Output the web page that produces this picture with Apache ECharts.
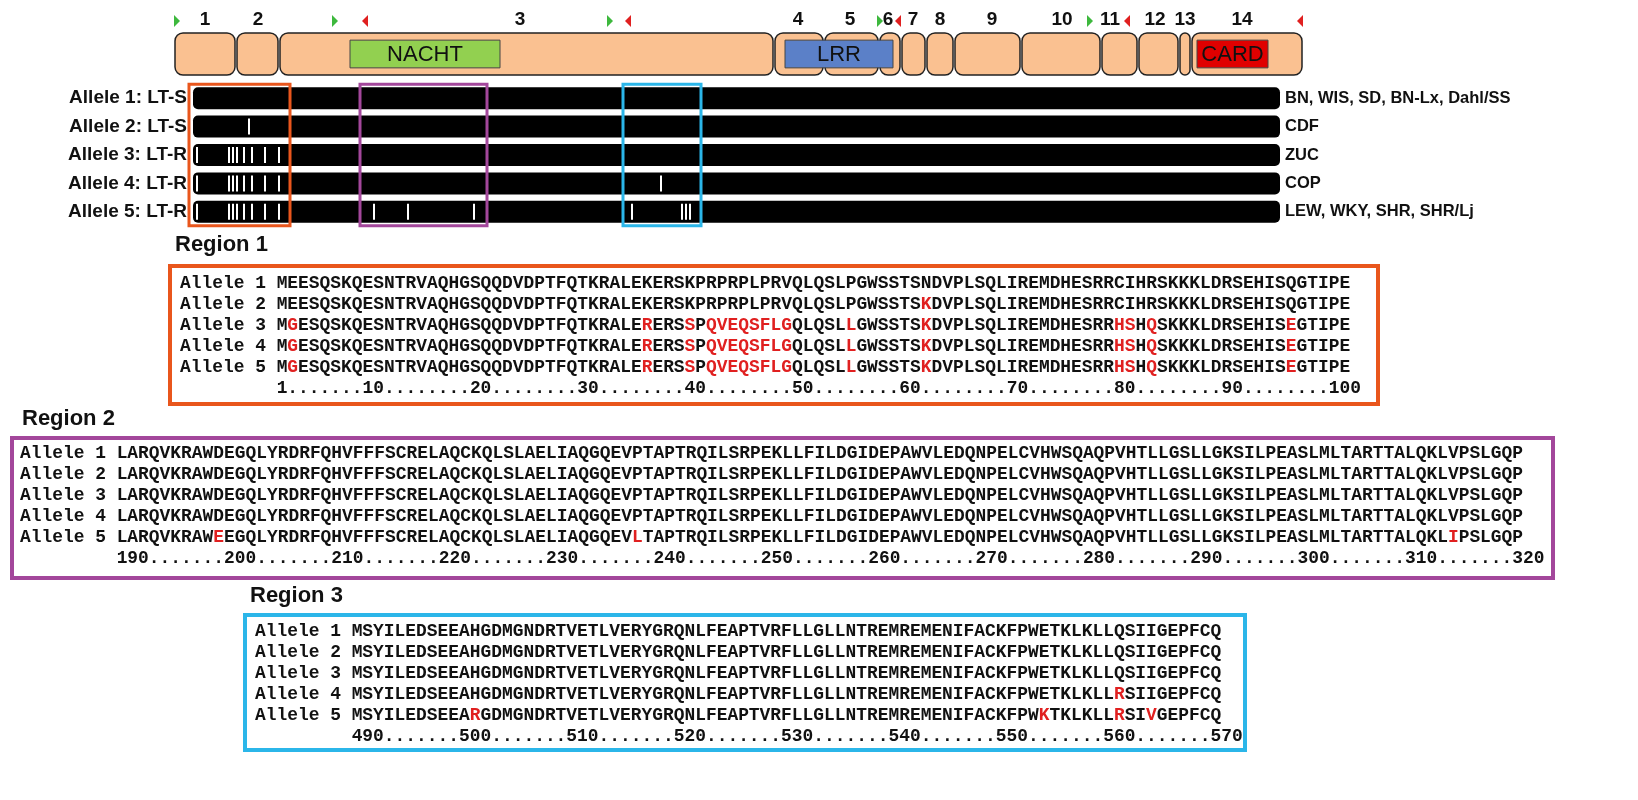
<!DOCTYPE html>
<html><head><meta charset="utf-8">
<script src="https://cdn.jsdelivr.net/npm/echarts@6/dist/echarts.min.js"></script>
<style>html,body{margin:0;padding:0;background:#fff}#c{width:1638px;height:800px}</style>
</head><body><div id="c"></div>
<script>
// ---------- DATA ----------
const exonStarts = [175,237,280,775,825,880,902,927,955,1022,1102,1139,1180,1192];
const exonEnds   = [235,278,773,823,878,900,925,953,1020,1100,1137,1178,1190,1302];
const exonLabels = ['1','2','3','4','5','6','7','8','9','10','11','12','13','14'];
const exonLabelX = [205,258,520,798,850,888,913,940,992,1062,1110,1155,1185,1242];
const domainNames = ['NACHT','LRR','CARD'];
const domainStart = [350,785,1197];
const domainEnd   = [500,893,1268];
const domainColors = ['#92D050','#5B80C8','#E00000'];
const greenTri = [177,335,610,880,1090];
const redTri   = [365,628,898,1127,1300];

const alleleNames = ['Allele 1: LT-S','Allele 2: LT-S','Allele 3: LT-R','Allele 4: LT-R','Allele 5: LT-R'];
const strainNames = ['BN, WIS, SD, BN-Lx, Dahl/SS','CDF','ZUC','COP','LEW, WKY, SHR, SHR/Lj'];
const barStart = 193, barEnd = 1280;
const marks1 = [];
const marks2 = [249];
const marks3 = [197,229,233,237,244,252,265,279];
const marks4 = [197,229,233,237,244,252,265,279,661];
const marks5 = [197,229,233,237,244,252,265,279,374,408,474,632,682,686,690];
const regionStart = [189,360,623];
const regionEnd   = [290,487,701];
const regionColors = ['#E9561C','#A3479B','#2BB6E9'];

const r1Seq = [
 'MEESQSKQESNTRVAQHGSQQDVDPTFQTKRALEKERSKPRPRPLPRVQLQSLPGWSSTSNDVPLSQLIREMDHESRRCIHRSKKKLDRSEHISQGTIPE',
 'MEESQSKQESNTRVAQHGSQQDVDPTFQTKRALEKERSKPRPRPLPRVQLQSLPGWSSTSKDVPLSQLIREMDHESRRCIHRSKKKLDRSEHISQGTIPE',
 'MGESQSKQESNTRVAQHGSQQDVDPTFQTKRALERERSSPQVEQSFLGQLQSLLGWSSTSKDVPLSQLIREMDHESRRHSHQSKKKLDRSEHISEGTIPE',
 'MGESQSKQESNTRVAQHGSQQDVDPTFQTKRALERERSSPQVEQSFLGQLQSLLGWSSTSKDVPLSQLIREMDHESRRHSHQSKKKLDRSEHISEGTIPE',
 'MGESQSKQESNTRVAQHGSQQDVDPTFQTKRALERERSSPQVEQSFLGQLQSLLGWSSTSKDVPLSQLIREMDHESRRHSHQSKKKLDRSEHISEGTIPE'];
const r1RedA = [2,35,39,41,42,43,44,45,46,47,48,54,61,79,80,82,95];
const r1Red = [[],[61],r1RedA,r1RedA,r1RedA];
const r1Ruler = '1.......10........20........30........40........50........60........70........80........90........100';

const r2Seq = [
 'LARQVKRAWDEGQLYRDRFQHVFFFSCRELAQCKQLSLAELIAQGQEVPTAPTRQILSRPEKLLFILDGIDEPAWVLEDQNPELCVHWSQAQPVHTLLGSLLGKSILPEASLMLTARTTALQKLVPSLGQP',
 'LARQVKRAWDEGQLYRDRFQHVFFFSCRELAQCKQLSLAELIAQGQEVPTAPTRQILSRPEKLLFILDGIDEPAWVLEDQNPELCVHWSQAQPVHTLLGSLLGKSILPEASLMLTARTTALQKLVPSLGQP',
 'LARQVKRAWDEGQLYRDRFQHVFFFSCRELAQCKQLSLAELIAQGQEVPTAPTRQILSRPEKLLFILDGIDEPAWVLEDQNPELCVHWSQAQPVHTLLGSLLGKSILPEASLMLTARTTALQKLVPSLGQP',
 'LARQVKRAWDEGQLYRDRFQHVFFFSCRELAQCKQLSLAELIAQGQEVPTAPTRQILSRPEKLLFILDGIDEPAWVLEDQNPELCVHWSQAQPVHTLLGSLLGKSILPEASLMLTARTTALQKLVPSLGQP',
 'LARQVKRAWEEGQLYRDRFQHVFFFSCRELAQCKQLSLAELIAQGQEVLTAPTRQILSRPEKLLFILDGIDEPAWVLEDQNPELCVHWSQAQPVHTLLGSLLGKSILPEASLMLTARTTALQKLIPSLGQP'];
const r2Red = [[],[],[],[],[10,49,125]];
const r2Ruler = '190.......200.......210.......220.......230.......240.......250.......260.......270.......280.......290.......300.......310.......320';

const r3Seq = [
 'MSYILEDSEEAHGDMGNDRTVETLVERYGRQNLFEAPTVRFLLGLLNTREMREMENIFACKFPWETKLKLLQSIIGEPFCQ',
 'MSYILEDSEEAHGDMGNDRTVETLVERYGRQNLFEAPTVRFLLGLLNTREMREMENIFACKFPWETKLKLLQSIIGEPFCQ',
 'MSYILEDSEEAHGDMGNDRTVETLVERYGRQNLFEAPTVRFLLGLLNTREMREMENIFACKFPWETKLKLLQSIIGEPFCQ',
 'MSYILEDSEEAHGDMGNDRTVETLVERYGRQNLFEAPTVRFLLGLLNTREMREMENIFACKFPWETKLKLLRSIIGEPFCQ',
 'MSYILEDSEEARGDMGNDRTVETLVERYGRQNLFEAPTVRFLLGLLNTREMREMENIFACKFPWKTKLKLLRSIVGEPFCQ'];
const r3Red = [[],[],[],[72],[12,65,72,75]];
const r3Ruler = '490.......500.......510.......520.......530.......540.......550.......560.......570';

// ---------- BUILD ----------
const MONO = '"Liberation Mono","DejaVu Sans Mono",monospace';
const SANS = '"Liberation Sans",Arial,sans-serif';
function richLine(seq, red){
  let s='', cur='', curRed=false;
  const flush=()=>{ if(cur){ s += '{'+(curRed?'r':'k')+'|'+cur+'}'; cur=''; } };
  for(let i=0;i<seq.length;i++){
    const isR = red.indexOf(i+1)>=0;
    if(isR!==curRed){ flush(); curRed=isR; }
    cur += seq[i];
  }
  flush();
  return s;
}
const fs = 17.9;
const rich = {k:{fill:'#111',fontFamily:MONO,fontSize:fs,fontWeight:'bold'},r:{fill:'#E02020',fontFamily:MONO,fontSize:fs,fontWeight:'bold'}};
const graphics = [];
function panel(title, tx, ty, box, color, x0, y0, seqs, reds, ruler){
  graphics.push({type:'text',left:tx,top:ty,style:{text:title,font:'bold 22px '+SANS,fill:'#111'}});
  graphics.push({type:'rect',shape:{x:box[0],y:box[1],width:box[2]-box[0],height:box[3]-box[1]},style:{fill:'none',stroke:color,lineWidth:4}});
  seqs.forEach((sq,i)=>{
    graphics.push({type:'text',x:x0,y:y0+i*21,style:{text:'{k|Allele '+(i+1)+' }'+richLine(sq,reds[i]),rich:rich,textVerticalAlign:'middle'}});
  });
  graphics.push({type:'text',x:x0,y:y0+5*21,style:{text:'{k|         '+ruler+'}',rich:rich,textVerticalAlign:'middle'}});
}
panel('Region 1',175,234,[170,266,1378,404],regionColors[0],180,283,r1Seq,r1Red,r1Ruler);
panel('Region 2',22,408,[12,438,1553,578],regionColors[1],20,453,r2Seq,r2Red,r2Ruler);
panel('Region 3',250,585,[245,615,1245,750],regionColors[2],255,631,r3Seq,r3Red,r3Ruler);

const allMarks = [marks1,marks2,marks3,marks4,marks5];
const markData = [];
allMarks.forEach((m,i)=>m.forEach(x=>markData.push([x,i])));

const chart = echarts.init(document.getElementById('c'));
chart.setOption({
  animation:false,
  grid:[
    {left:175,width:1127,top:33,height:42},
    {left:193,width:1087,top:84,height:142}
  ],
  xAxis:[
    {gridIndex:0,type:'value',min:175,max:1302,show:false},
    {gridIndex:1,type:'value',min:barStart,max:barEnd,show:false}
  ],
  yAxis:[
    {gridIndex:0,type:'value',min:0,max:1,show:false},
    {gridIndex:1,type:'category',data:alleleNames,inverse:true,axisLine:{show:false},axisTick:{show:false},
     axisLabel:{interval:0,color:'#111',fontFamily:SANS,fontWeight:'bold',fontSize:19,margin:6}},
    {gridIndex:1,type:'category',data:strainNames,inverse:true,position:'right',axisLine:{show:false},axisTick:{show:false},
     axisLabel:{interval:0,color:'#111',fontFamily:SANS,fontWeight:'bold',fontSize:16.5,margin:5}}
  ],
  series:[
    {type:'custom',xAxisIndex:0,yAxisIndex:0,data:exonStarts.map((s,i)=>[s,exonEnds[i],exonLabelX[i]]),
     renderItem:(p,api)=>{
       const a=api.coord([api.value(0),0]), b=api.coord([api.value(1),1]);
       const lx=api.coord([api.value(2),1])[0];
       return {type:'group',children:[
         {type:'rect',shape:{x:a[0],y:b[1],width:b[0]-a[0],height:a[1]-b[1],r:8},style:{fill:'#FAC191',stroke:'#222',lineWidth:1.5}},
         {type:'text',style:{x:lx,y:b[1]-13,text:exonLabels[p.dataIndex],font:'bold 19px '+SANS,fill:'#111',align:'center',verticalAlign:'middle'}}
       ]};
     }},
    {type:'custom',xAxisIndex:0,yAxisIndex:0,data:domainStart.map((s,i)=>[s,domainEnd[i]]),z:3,
     renderItem:(p,api)=>{
       const a=api.coord([api.value(0),0.17]), b=api.coord([api.value(1),0.83]);
       return {type:'group',children:[
         {type:'rect',shape:{x:a[0],y:b[1],width:b[0]-a[0],height:a[1]-b[1]},style:{fill:domainColors[p.dataIndex],stroke:'#444',lineWidth:1}},
         {type:'text',style:{x:(a[0]+b[0])/2,y:(a[1]+b[1])/2+1,text:domainNames[p.dataIndex],font:'22px '+SANS,fill:'#111',align:'center',verticalAlign:'middle'}}
       ]};
     }},
    {type:'custom',xAxisIndex:0,yAxisIndex:0,data:greenTri.map(x=>[x,0]).concat(redTri.map(x=>[x,1])),
     renderItem:(p,api)=>{
       const c=api.coord([api.value(0),1]); const x=c[0], y=c[1]-12; const red=api.value(1)===1;
       const pts= red? [[x+3,y-6],[x+3,y+6],[x-3,y]] : [[x-3,y-6],[x-3,y+6],[x+3,y]];
       return {type:'polygon',shape:{points:pts},style:{fill:red?'#E02020':'#3DB83D'}};
     }},
    {type:'custom',xAxisIndex:1,yAxisIndex:1,data:alleleNames.map((n,i)=>[barStart,i]),
     renderItem:(p,api)=>{
       const a=api.coord([barStart,api.value(1)]), b=api.coord([barEnd,api.value(1)]);
       return {type:'rect',shape:{x:a[0],y:a[1]-11,width:b[0]-a[0],height:22,r:5},style:{fill:'#000'}};
     }},
    {type:'custom',xAxisIndex:1,yAxisIndex:1,data:markData,z:3,
     renderItem:(p,api)=>{
       const c=api.coord([api.value(0),api.value(1)]);
       return {type:'rect',shape:{x:c[0]-1,y:c[1]-8,width:2,height:16},style:{fill:'#fff'}};
     }},
    {type:'custom',xAxisIndex:1,yAxisIndex:1,data:regionStart.map((s,i)=>[s,regionEnd[i]]),z:4,
     renderItem:(p,api)=>{
       const a=api.coord([api.value(0),0]), b=api.coord([api.value(1),4]);
       return {type:'rect',shape:{x:a[0],y:a[1]-14,width:b[0]-a[0],height:b[1]-a[1]+28},style:{fill:'none',stroke:regionColors[p.dataIndex],lineWidth:3}};
     }}
  ],
  graphic:graphics
});
</script></body></html>
